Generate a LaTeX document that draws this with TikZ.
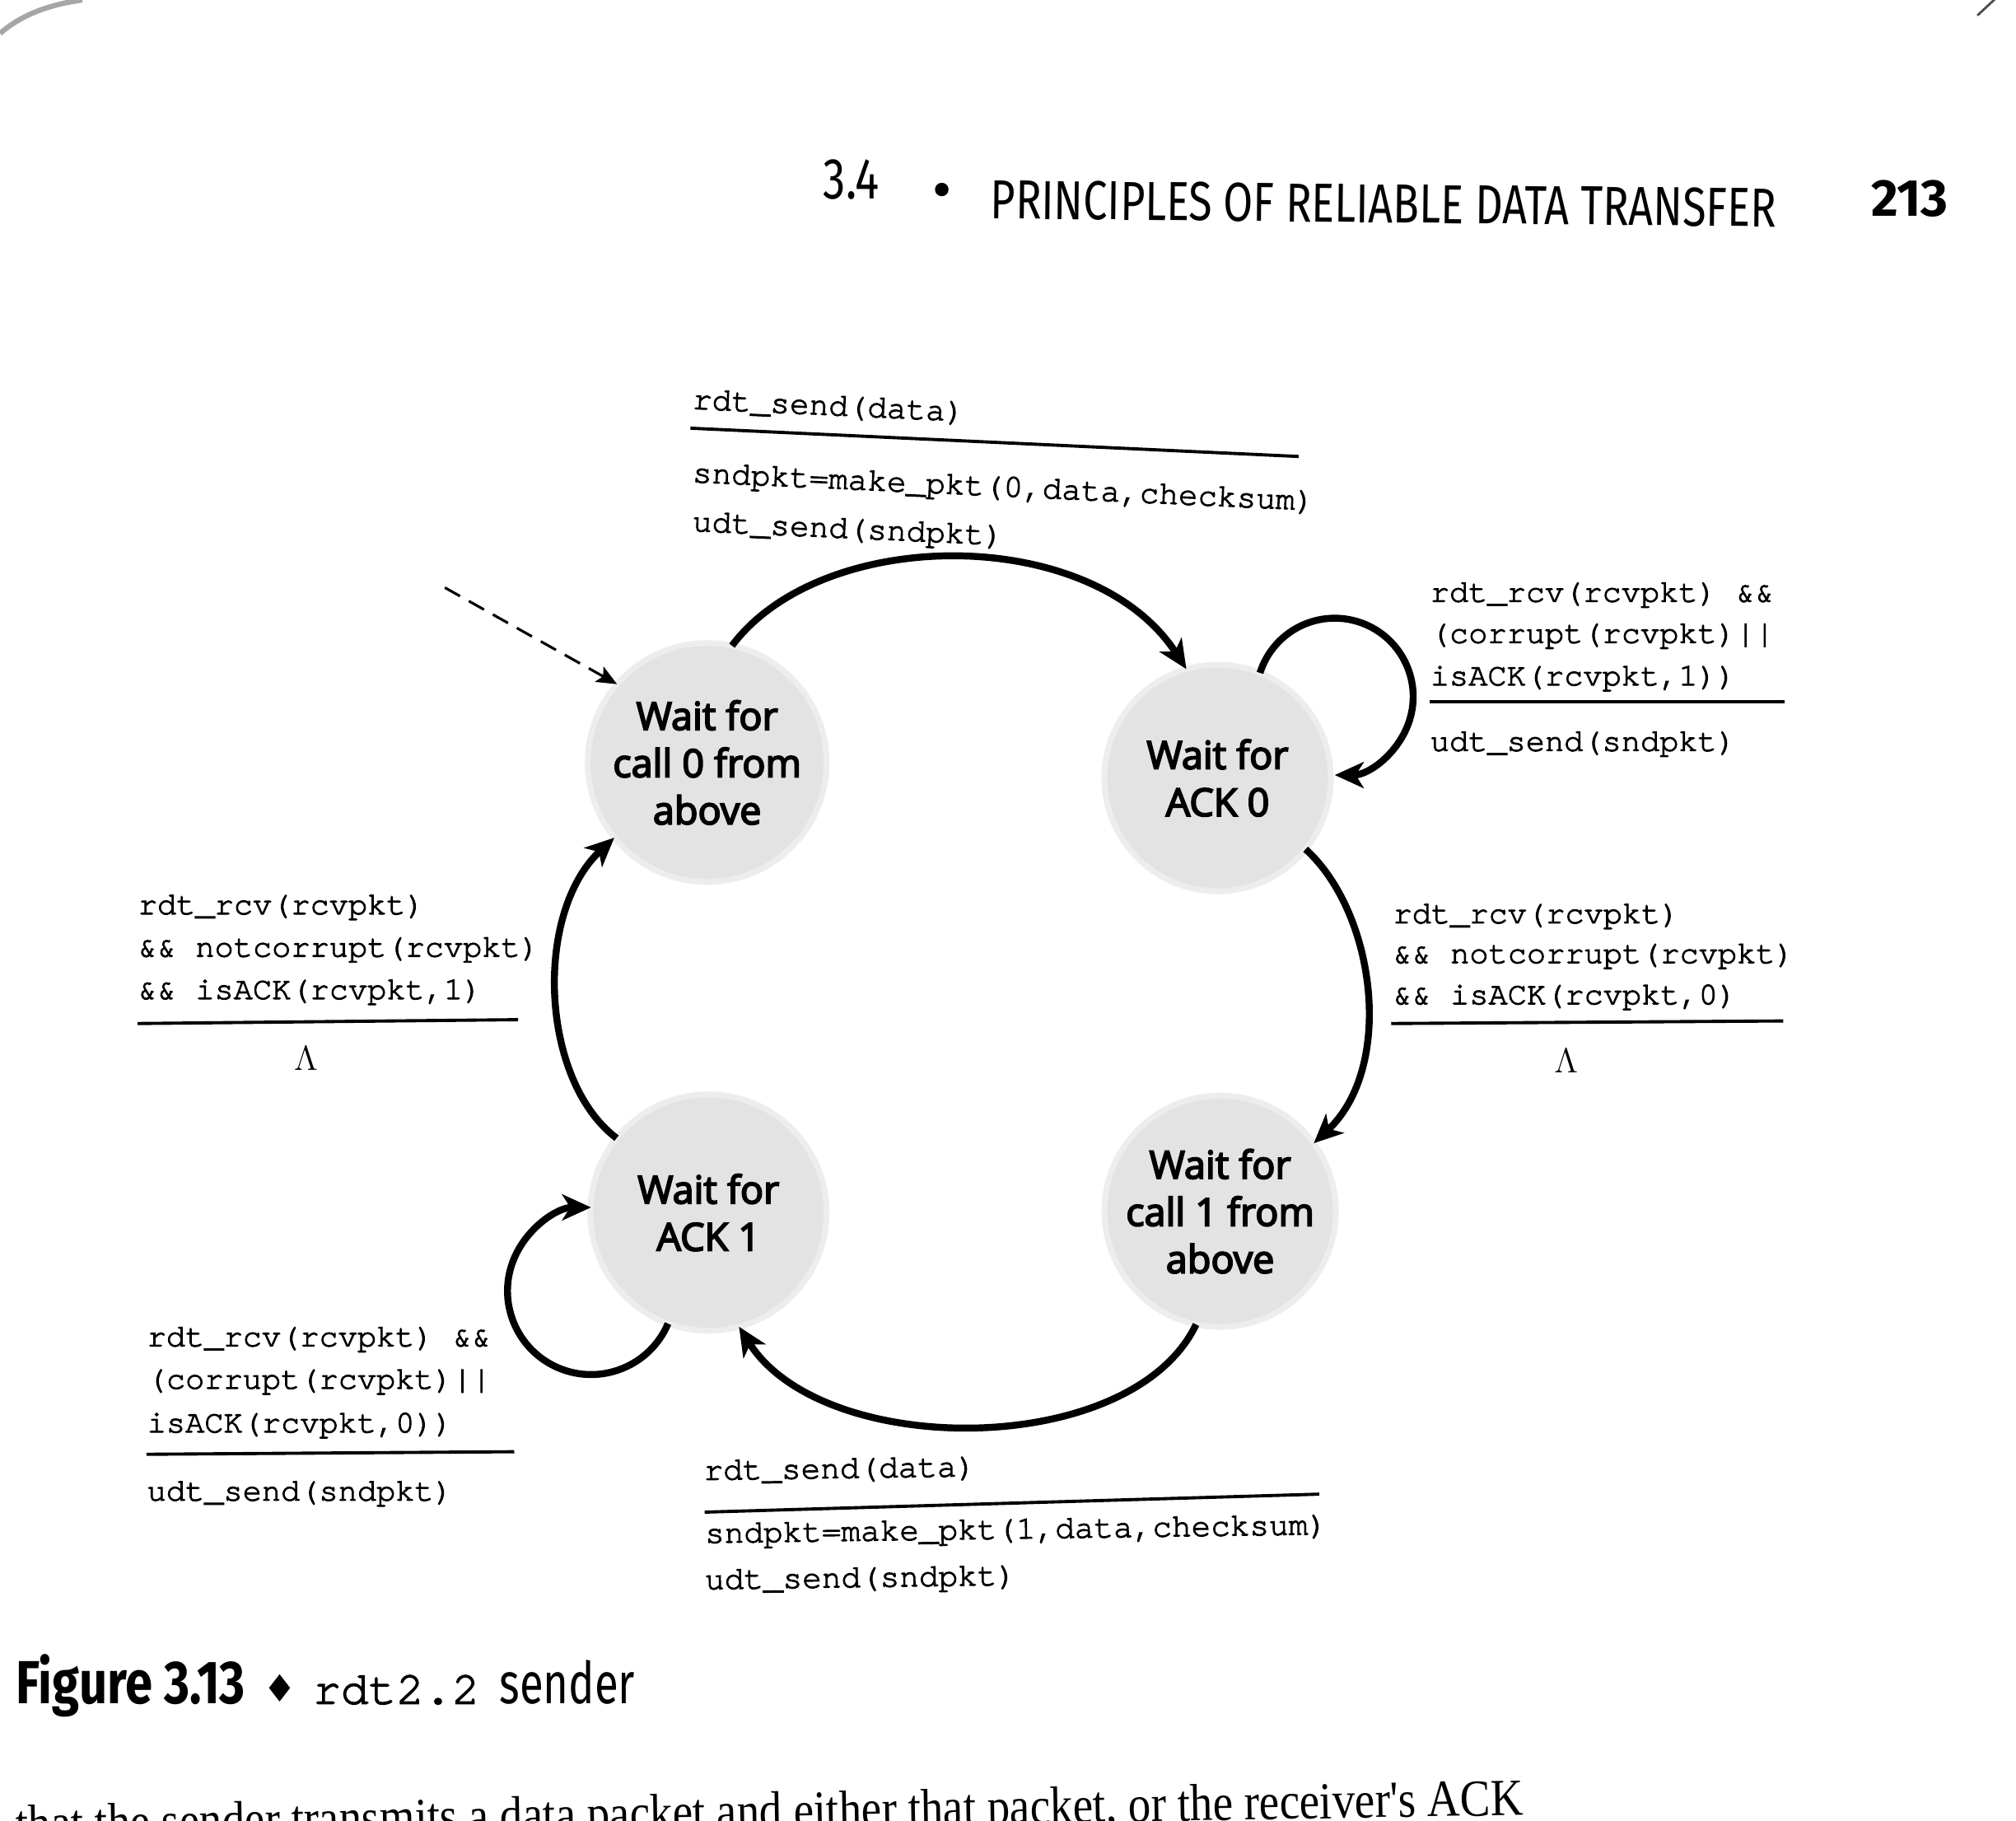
\documentclass[tikz,border=0pt]{standalone}
\usepackage{fontspec}
\usetikzlibrary{arrows.meta}
\setmainfont{Liberation Serif}
\newfontfamily\bodyfont{Liberation Serif}[FakeStretch=0.87]
\newfontfamily\statefont{Open Sans}[FakeBold=4]
\newfontfamily\codefont{TeX Gyre Cursor}[FakeBold=2.5]
\newfontfamily\headfont{Fira Sans}[FakeStretch=0.78]
\newfontfamily\pagefont{Fira Sans}
\newfontfamily\capfont{Fira Sans}[FakeStretch=0.81]
\newfontfamily\capfontb{Fira Sans}[FakeStretch=0.75]
\newfontfamily\symfont{DejaVu Sans}
\begin{document}
\begin{tikzpicture}[x=0.015612cm,y=-0.015612cm,
  state/.style={circle, fill=black!11, draw=black!7, line width=2pt, inner sep=0pt, outer sep=0pt,
    align=center, font=\statefont\fontsize{13.3}{16.3}\selectfont},
  code/.style={font=\codefont\fontsize{11}{13}\selectfont, inner sep=0pt, anchor=base west},
  codel/.style={code, font=\codefont\fontsize{11.2}{13}\selectfont},
  lam/.style={font=\fontsize{12.5}{14}\selectfont, inner sep=0pt},
  rule/.style={line width=1.1pt},
  arr/.style={line width=2.4pt, -{Stealth[length=10pt,width=9pt,inset=2.8pt]}},
  initarr/.style={line width=0.9pt, dash pattern=on 6pt off 3.5pt, -{Stealth[length=7pt,width=6pt,inset=1.5pt]}}]
\useasboundingbox (0,0) rectangle (1568,1415.6);
% scan page edge marks
\draw[black!35, line width=1.8pt] (0,26) .. controls (15,13) and (35,4) .. (64,0);
\draw[black!70, line width=0.8pt] (1538,12) -- (1553,-2);
% header
\node[inner sep=0pt, anchor=base west, font=\headfont\fontsize{20}{22}\selectfont] (hnum) at (640,155) {3.4};
\node[inner sep=0pt, font=\fontsize{16}{18}\selectfont] (hdot) at (733,152) {\symfont •};
\node[inner sep=0pt, anchor=base west, rotate=-0.6, font=\headfont\fontsize{19}{22}\selectfont] (htitle) at (770,170) {PRINCIPLES OF RELIABLE DATA TRANSFER};
\node[inner sep=0pt, anchor=base west, font=\pagefont\bfseries\fontsize{18}{22}\selectfont] (hpage) at (1455,168) {213};
% states
\node[state, minimum size=2.90cm] (s0) at (550,593) {Wait for\\call 0 from\\above};
\node[state, minimum size=2.75cm] (s1) at (947,605) {Wait for\\ACK 0};
\node[state, minimum size=2.81cm] (s2) at (949,942) {Wait for\\call 1 from\\above};
\node[state, minimum size=2.87cm] (s3) at (551,943) {Wait for\\ACK 1};
% initial arrow
\coordinate (init) at (346,457);
\draw[initarr] (init) -- (s0.139);
% transitions
\draw[arr] (s0.78) .. controls (640,408) and (850,408) .. (s1.106);
\draw[arr] (s1.68) arc[start angle=197.6, end angle=450, radius=61];
\draw[arr] (s1.-39) .. controls (1070,710) and (1085,830) .. (s2.36);
\draw[arr] (s2.258) .. controls (880,1135) and (640,1135) .. (s3.285);
\draw[arr] (s3.250) arc[start angle=23, end angle=270, radius=65];
\draw[arr] (s3.141.5) .. controls (420,840) and (415,710) .. (s0.219);
% top label
\node[codel, rotate=-2.6] (t1) at (538,318) {rdt\_send(data)};
\draw[rule] (537,333) coordinate (t1a) -- (1010,355) coordinate (t1b);
\node[codel, rotate=-2.6] (t2) at (538,375) {sndpkt=make\_pkt(0,data,checksum)};
\node[codel, rotate=-2.6] (t3) at (538,413) {udt\_send(sndpkt)};
% right top loop label
\node[code] (r1) at (1112,468) {rdt\_rcv(rcvpkt) \&\&};
\node[code] (r2) at (1112,500) {(corrupt(rcvpkt)||};
\node[code] (r3) at (1112,533) {isACK(rcvpkt,1))};
\draw[rule] (1112,546) -- (1388,546);
\node[code] (r4) at (1112,584) {udt\_send(sndpkt)};
% right label
\node[code] (q1) at (1083,718) {rdt\_rcv(rcvpkt)};
\node[code] (q2) at (1083,749) {\&\& notcorrupt(rcvpkt)};
\node[code] (q3) at (1083,781) {\&\& isACK(rcvpkt,0)};
\draw[rule] (1082,796) -- (1387,794);
\node[lam] (q4) at (1218,825) {$\Lambda$};
% left label
\node[code] (l1) at (107,711) {rdt\_rcv(rcvpkt)};
\node[code] (l2) at (107,744) {\&\& notcorrupt(rcvpkt)};
\node[code] (l3) at (107,777) {\&\& isACK(rcvpkt,1)};
\draw[rule] (107,796) -- (403,793);
\node[lam] (l4) at (238,823) {$\Lambda$};
% bottom-left loop label
\node[code] (b1) at (114,1047) {rdt\_rcv(rcvpkt) \&\&};
\node[code] (b2) at (114,1080) {(corrupt(rcvpkt)||};
\node[code] (b3) at (114,1114) {isACK(rcvpkt,0))};
\draw[rule] (114,1131) -- (400,1129);
\node[code] (b4) at (114,1167) {udt\_send(sndpkt)};
% bottom label
\node[codel, rotate=0.8] (d1) at (547,1151) {rdt\_send(data)};
\draw[rule] (548,1176) -- (1026,1162);
\node[codel, rotate=0.8] (d2) at (548,1200) {sndpkt=make\_pkt(1,data,checksum)};
\node[codel, rotate=0.8] (d3) at (548,1236) {udt\_send(sndpkt)};
% caption
\node[inner sep=0pt, anchor=base west, font=\capfont\bfseries\fontsize{21}{24}\selectfont] (cap1) at (12,1325) {Figure 3.13};
\node[inner sep=0pt, font=\fontsize{13}{15}\selectfont] (cap2) at (218,1313) {\symfont ♦};
\node[inner sep=0pt, anchor=base west, font=\codefont\fontsize{16}{18}\selectfont] (cap3) at (243,1325) {rdt2.2};
\node[inner sep=0pt, anchor=base west, font=\capfontb\fontsize{20}{24}\selectfont] (cap4) at (388,1325) {sender};
% cut-off body text line
\node[inner sep=0pt, anchor=base west, rotate=1.0, font=\bodyfont\fontsize{18}{20}\selectfont] (body) at (12,1432) {that the sender transmits a data packet and either that packet, or the receiver's ACK};
\end{tikzpicture}
\end{document}
